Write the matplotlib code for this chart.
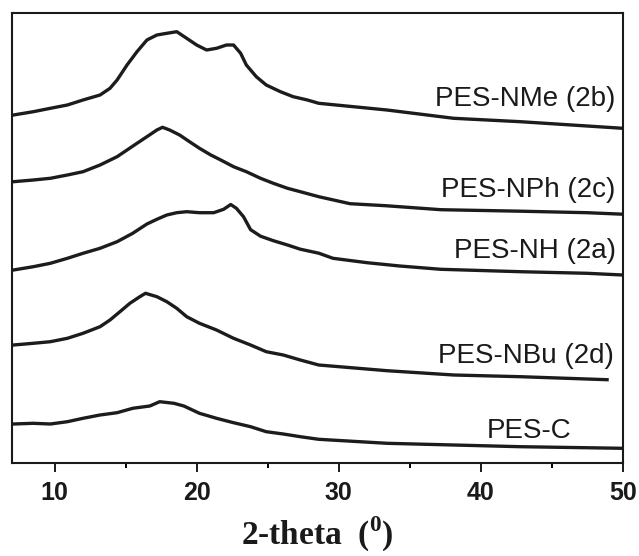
import matplotlib
matplotlib.use("Agg")
import matplotlib.pyplot as plt
from matplotlib.ticker import MultipleLocator, NullLocator

plt.rcParams['mathtext.fontset'] = 'custom'
plt.rcParams['mathtext.rm'] = 'Liberation Serif:bold'
plt.rcParams['mathtext.bf'] = 'Liberation Serif:bold'

# ---- data (2-theta in degrees, intensity in arbitrary stacked units) ----
nme_x = [7.1, 8.5, 9.7, 10.9, 12.0, 13.2, 13.9, 14.4, 15.1, 15.8, 16.5, 17.2, 17.9, 18.6,
         19.3, 20.0, 20.7, 21.4, 22.1, 22.6, 23.1, 23.5, 24.2, 24.9, 25.9, 26.8, 27.8,
         28.6, 33.4, 38.1, 42.8, 47.5, 50.0]
nme_y = [347.7, 351, 354.4, 357.7, 362.7, 367.7, 374.4, 382.7, 397.7, 411, 422.7, 427.7,
         429.4, 431, 424.4, 417.7, 412.7, 414.4, 417.7, 417.7, 409.4, 397.7, 386, 377.7,
         371, 366, 362.7, 359.4, 352.7, 344.4, 341, 336.7, 334.4]

nph_x = [7.1, 8.5, 9.7, 10.9, 12.0, 13.2, 14.4, 15.1, 15.8, 16.5, 17.2, 17.6, 18.1, 18.8,
         19.5, 20.2, 21.0, 21.7, 22.6, 23.5, 24.5, 25.4, 26.4, 27.3, 28.6, 30.8, 33.3,
         37.2, 42.8, 47.5, 50.0]
nph_y = [281, 282.7, 284.4, 287.7, 291, 297.7, 306, 312.7, 319.4, 326, 332.7, 335.4, 332.7,
         327.7, 321, 314.4, 307.7, 302.7, 296, 291, 284.4, 279.4, 274.4, 271, 266, 259,
         257, 253, 251.5, 250, 248.5]

nh_x = [7.1, 8.5, 9.7, 10.9, 12.0, 13.2, 14.4, 15.5, 16.5, 17.2, 17.9, 18.6, 19.3, 20.2,
        21.2, 21.9, 22.4, 22.8, 23.3, 23.8, 24.5, 25.4, 26.4, 27.3, 28.6, 29.6, 32.0,
        34.3, 37.2, 42.8, 47.5, 50.0]
nh_y = [192.7, 196, 199.4, 204.4, 209.4, 214.4, 221, 229.4, 238.7, 243.4, 247.7, 250, 251,
        250, 250, 253.4, 258.2, 254.4, 246, 233, 226.5, 222, 217.7, 213.5, 209.5, 204.4,
        200, 196.7, 193.4, 191, 189.4, 187.7]

nbu_x = [7.1, 8.5, 9.7, 10.9, 12.0, 13.2, 13.9, 14.6, 15.3, 16.0, 16.4, 17.2, 17.9, 18.6,
         19.3, 20.2, 21.4, 22.6, 23.8, 24.9, 26.1, 27.3, 28.6, 33.4, 38.1, 42.8, 48.9]
nbu_y = [117.7, 119.4, 121, 124.4, 129.4, 136, 142.7, 151, 159.4, 166, 169.4, 166, 161,
         154.4, 146, 139.4, 132.7, 124.4, 117.7, 111, 107.7, 102.7, 97.7, 92, 87.7, 86, 83]

pesc_x = [7.1, 8.5, 9.7, 10.9, 12.0, 13.2, 14.4, 15.5, 16.7, 17.4, 18.4, 19.1, 20.2, 21.4,
          22.6, 23.8, 24.9, 26.1, 27.3, 28.6, 33.4, 38.1, 42.8, 50.0]
pesc_y = [38.7, 39.4, 38.7, 41, 44.4, 47.7, 50, 54.4, 56.7, 61, 59.4, 56.7, 49.4, 44.4,
          40, 36, 31, 28.7, 26, 23.4, 19.4, 17.7, 16, 14.4]

labels = ["PES-NMe (2b)", "PES-NPh (2c)", "PES-NH (2a)", "PES-NBu (2d)", "PES-C"]
label_x = [49.5, 49.5, 49.5, 49.4, 46.4]
label_y = [356.7, 266, 204.4, 100, 25]

xticks = [10, 20, 30, 40, 50]

# ---- figure ----
fig = plt.figure(figsize=(6.39, 5.56), dpi=100)
ax = fig.add_axes([12 / 639, 1 - 462.7 / 556, (622.7 - 12) / 639, (462.7 - 13) / 556])

col = '#1c1c1c'
for xs, ys in [(nme_x, nme_y), (nph_x, nph_y), (nh_x, nh_y), (nbu_x, nbu_y), (pesc_x, pesc_y)]:
    ax.plot(xs, ys, color=col, lw=2.4, solid_joinstyle='round')

for t, x, y in zip(labels, label_x, label_y):
    ax.text(x, y, t, ha='right', va='baseline', fontsize=20,
            family='Liberation Sans', color='#1a1a1a')

ax.set_xlim(7, 50)
ax.set_ylim(0, 449.7)
ax.set_xticks(xticks)
ax.set_xticklabels([str(v) for v in xticks])
ax.xaxis.set_minor_locator(MultipleLocator(5))
ax.yaxis.set_major_locator(NullLocator())
ax.tick_params(axis='x', which='major', direction='out', length=6.5, width=1.4,
               pad=7, labelsize=18, colors='#1a1a1a')
ax.tick_params(axis='x', which='minor', direction='out', length=3.4, width=1.4)
for lab in ax.get_xticklabels():
    lab.set_fontweight('bold')
    lab.set_family('Liberation Sans')
for s in ax.spines.values():
    s.set_linewidth(1.5)
    s.set_color('#1a1a1a')

fig.text(317 / 639, 1 - 545 / 556, r'2-theta  (${}^{\mathbf{0}}$)', ha='center', va='baseline',
         fontsize=24, family='Liberation Serif', fontweight='bold', color='#1a1a1a')

fig.savefig('out.png', dpi=100)
